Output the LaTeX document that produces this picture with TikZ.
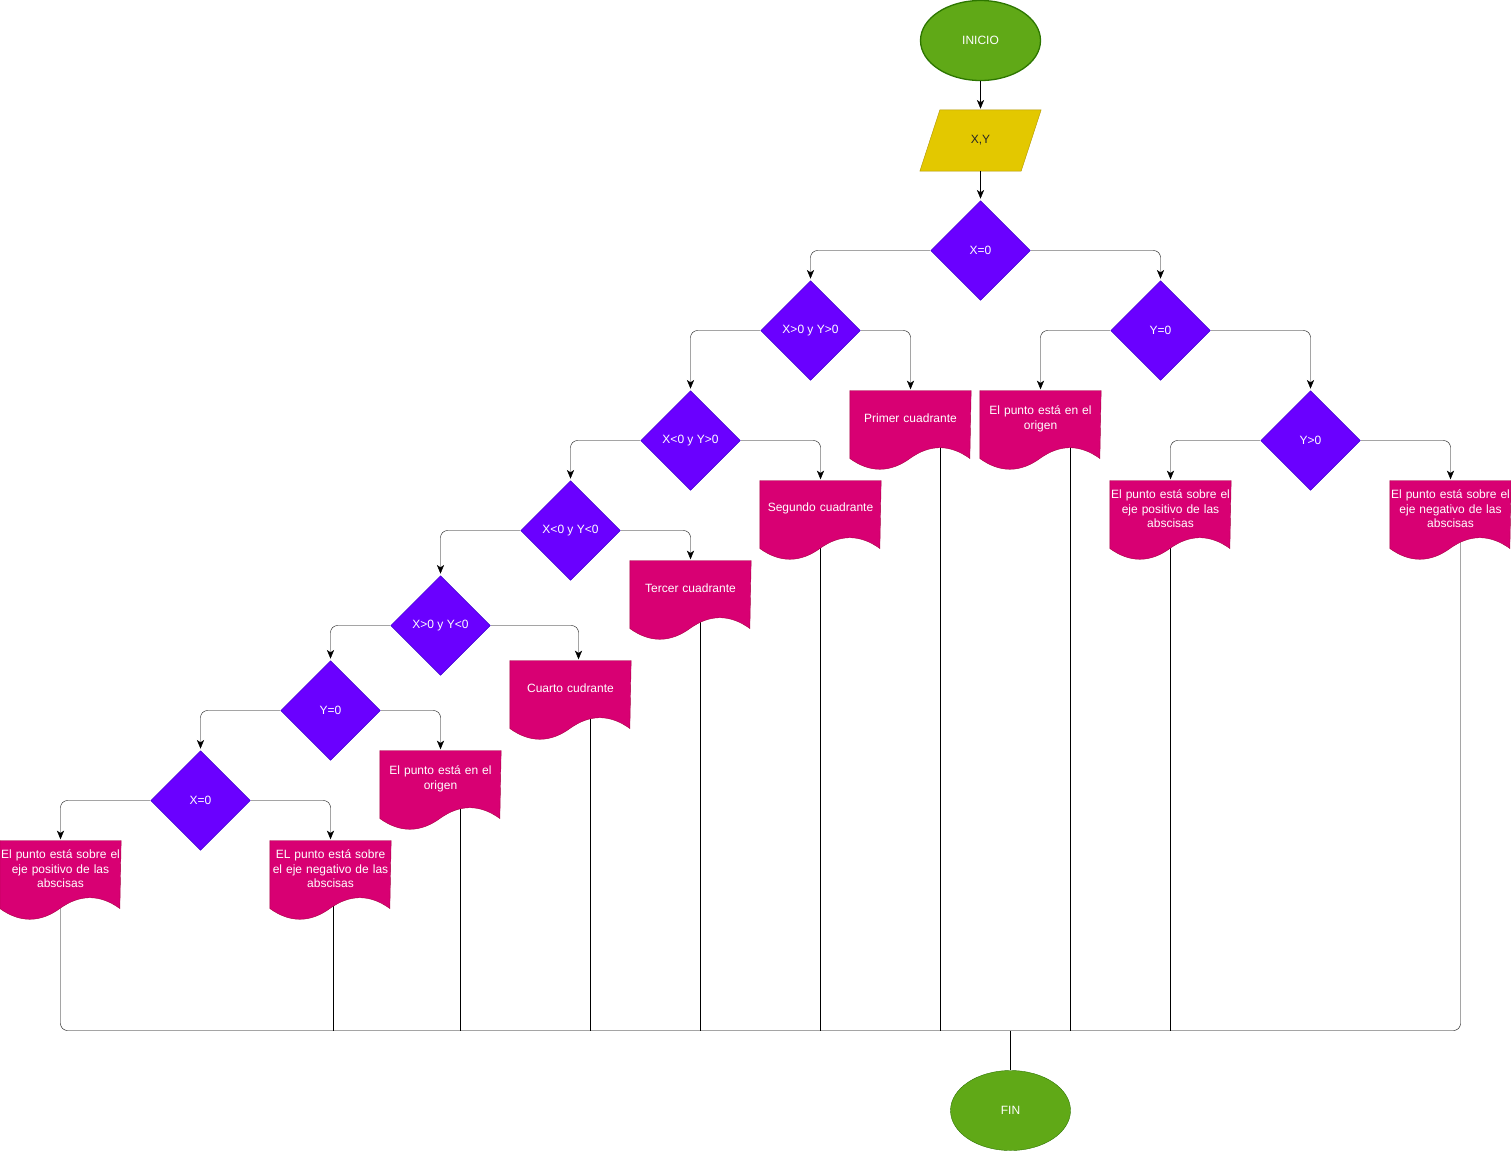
\documentclass[tikz,border=0pt]{standalone}
\usepackage{fontspec}
\setmainfont{Liberation Sans}
\usepackage{xcolor}
\usepackage{tikz}
\usetikzlibrary{calc,shapes.geometric,arrows.meta}

\definecolor{startfill}{HTML}{60A917}
\definecolor{startline}{HTML}{2D7600}
\definecolor{inputfill}{HTML}{E3C800}
\definecolor{inputline}{HTML}{B09500}
\definecolor{askfill}{HTML}{6A00FF}
\definecolor{askline}{HTML}{3700CC}
\definecolor{docfill}{HTML}{D80073}
\definecolor{docline}{HTML}{A50040}

\pgfdeclarelayer{wires}
\pgfdeclarelayer{sheets}
\pgfsetlayers{wires,sheets,main}

\tikzset{
  every node/.style={font=\fontsize{12bp}{14.5bp}\selectfont},
  terminal/.style={ellipse, draw=startline, fill=startfill, text=white,
    minimum width=120bp, minimum height=80bp, inner sep=0pt},
  inputbox/.style={text=black!85, minimum width=120bp, minimum height=60bp, inner sep=0pt,
    append after command={\pgfextra{\begin{pgfonlayer}{sheets}
      \filldraw[fill=inputfill, draw=inputline]
        ($(\tikzlastnode.north west)+(20,0)$) -- (\tikzlastnode.north east)
        -- ($(\tikzlastnode.south east)+(-20,0)$) -- (\tikzlastnode.south west) -- cycle;
      \end{pgfonlayer}}}},
  askbox/.style={diamond, draw=askline, fill=askfill, text=white,
    minimum width=100bp, minimum height=100bp, inner sep=0pt},
  docbox/.style={anchor=north, text=white, align=center, text width=119bp,
    minimum width=120bp, minimum height=55bp, inner sep=0pt,
    append after command={\pgfextra{\begin{pgfonlayer}{sheets}
      \filldraw[fill=docfill, draw=docline]
        (\tikzlastnode.north west) -- (\tikzlastnode.north east)
        -- ($(\tikzlastnode.north west)+(120,68)$)
        .. controls ($(\tikzlastnode.north west)+(100,53.6)$) and ($(\tikzlastnode.north west)+(80,53.6)$)
        .. ($(\tikzlastnode.north west)+(60,68)$)
        .. controls ($(\tikzlastnode.north west)+(40,82.4)$) and ($(\tikzlastnode.north west)+(20,82.4)$)
        .. ($(\tikzlastnode.north west)+(0,68)$) -- cycle;
      \end{pgfonlayer}}}},
  flow/.style={-{Stealth[length=11bp,width=9bp,inset=3bp]}, rounded corners=7bp},
}

\begin{document}
\begin{tikzpicture}[x=1bp, y=-1bp, line width=1.3bp]
\useasboundingbox (0,0) rectangle (1511,1152);
\begin{scope}[shift={(0.5,0.5)}]

% Start and input
\node[terminal] (inicio) at (980,40) {INICIO};
\node[inputbox] (xy) at (980,140) {X,Y};

% Decisions
\node[askbox] (x0) at (980,250) {X=0};
\node[askbox] (q1t) at (810,330) {X>0 y Y>0};
\node[askbox] (y0r) at (1160,330) {Y=0};
\node[askbox] (q2t) at (690,440) {X<0 y Y>0};
\node[askbox] (ypos) at (1310,440) {Y>0};
\node[askbox] (q3t) at (570,530) {X<0 y Y<0};
\node[askbox] (q4t) at (440,625) {X>0 y Y<0};
\node[askbox] (y0l) at (330,710) {Y=0};
\node[askbox] (x0l) at (200,800) {X=0};

% Outputs (placed by their top edge)
\node[docbox] (primer) at (910,390) {Primer cuadrante};
\node[docbox] (origA) at (1040,390) {El punto está en el\\origen};
\node[docbox] (segundo) at (820,480) {Segundo cuadrante};
\node[docbox] (ejeposR) at (1170,480) {El punto está sobre el\\eje positivo de las\\abscisas};
\node[docbox] (ejenegR) at (1450,480) {El punto está sobre el\\eje negativo de las\\abscisas};
\node[docbox] (tercer) at (690,560) {Tercer cuadrante};
\node[docbox] (cuarto) at (570,660) {Cuarto cudrante};
\node[docbox] (origB) at (440,750) {El punto está en el\\origen};
\node[docbox] (ejeposL) at (60,840) {El punto está sobre el\\eje positivo de las\\abscisas};
\node[docbox] (ejenegL) at (330,840) {EL punto está sobre\\el eje negativo de las\\abscisas};

% End
\node[terminal] (fin) at (1010,1110) {FIN};
\coordinate (bus) at (1010,1030);

% Main flow
\draw[flow] (inicio) -- (xy);
\draw[flow] (xy) -- (x0);
\draw[flow] (x0.west) -| (q1t.north);
\draw[flow] (x0.east) -| (y0r.north);
\draw[flow] (q1t.west) -| (q2t.north);
\draw[flow] (q1t.east) -| (primer.north);
\draw[flow] (y0r.west) -| (origA.north);
\draw[flow] (y0r.east) -| (ypos.north);
\draw[flow] (q2t.west) -| (q3t.north);
\draw[flow] (q2t.east) -| (segundo.north);
\draw[flow] (ypos.west) -| (ejeposR.north);
\draw[flow] (ypos.east) -| (ejenegR.north);
\draw[flow] (q3t.west) -| (q4t.north);
\draw[flow] (q3t.east) -| (tercer.north);
\draw[flow] (q4t.west) -| (y0l.north);
\draw[flow] (q4t.east) -| ([xshift=8bp]cuarto.north);
\draw[flow] (y0l.west) -| (x0l.north);
\draw[flow] (y0l.east) -| (origB.north);
\draw[flow] (x0l.west) -| (ejeposL.north);
\draw[flow] (x0l.east) -| (ejenegL.north);

% Collector lines down to FIN
\begin{pgfonlayer}{wires}
\draw[rounded corners=7bp] (ejeposL.south) |- (bus) -| ([xshift=10bp]ejenegR.south);
\foreach \doc/\dx in {ejenegL/3, origB/20, cuarto/20, tercer/10, segundo/0,
                      primer/30, origA/30, ejeposR/0} {
    \draw ([xshift=\dx bp]\doc.south) -- ([xshift=\dx bp]\doc.south |- bus);
}
\end{pgfonlayer}
\draw (bus) -- (fin);

\end{scope}
\end{tikzpicture}
\end{document}
